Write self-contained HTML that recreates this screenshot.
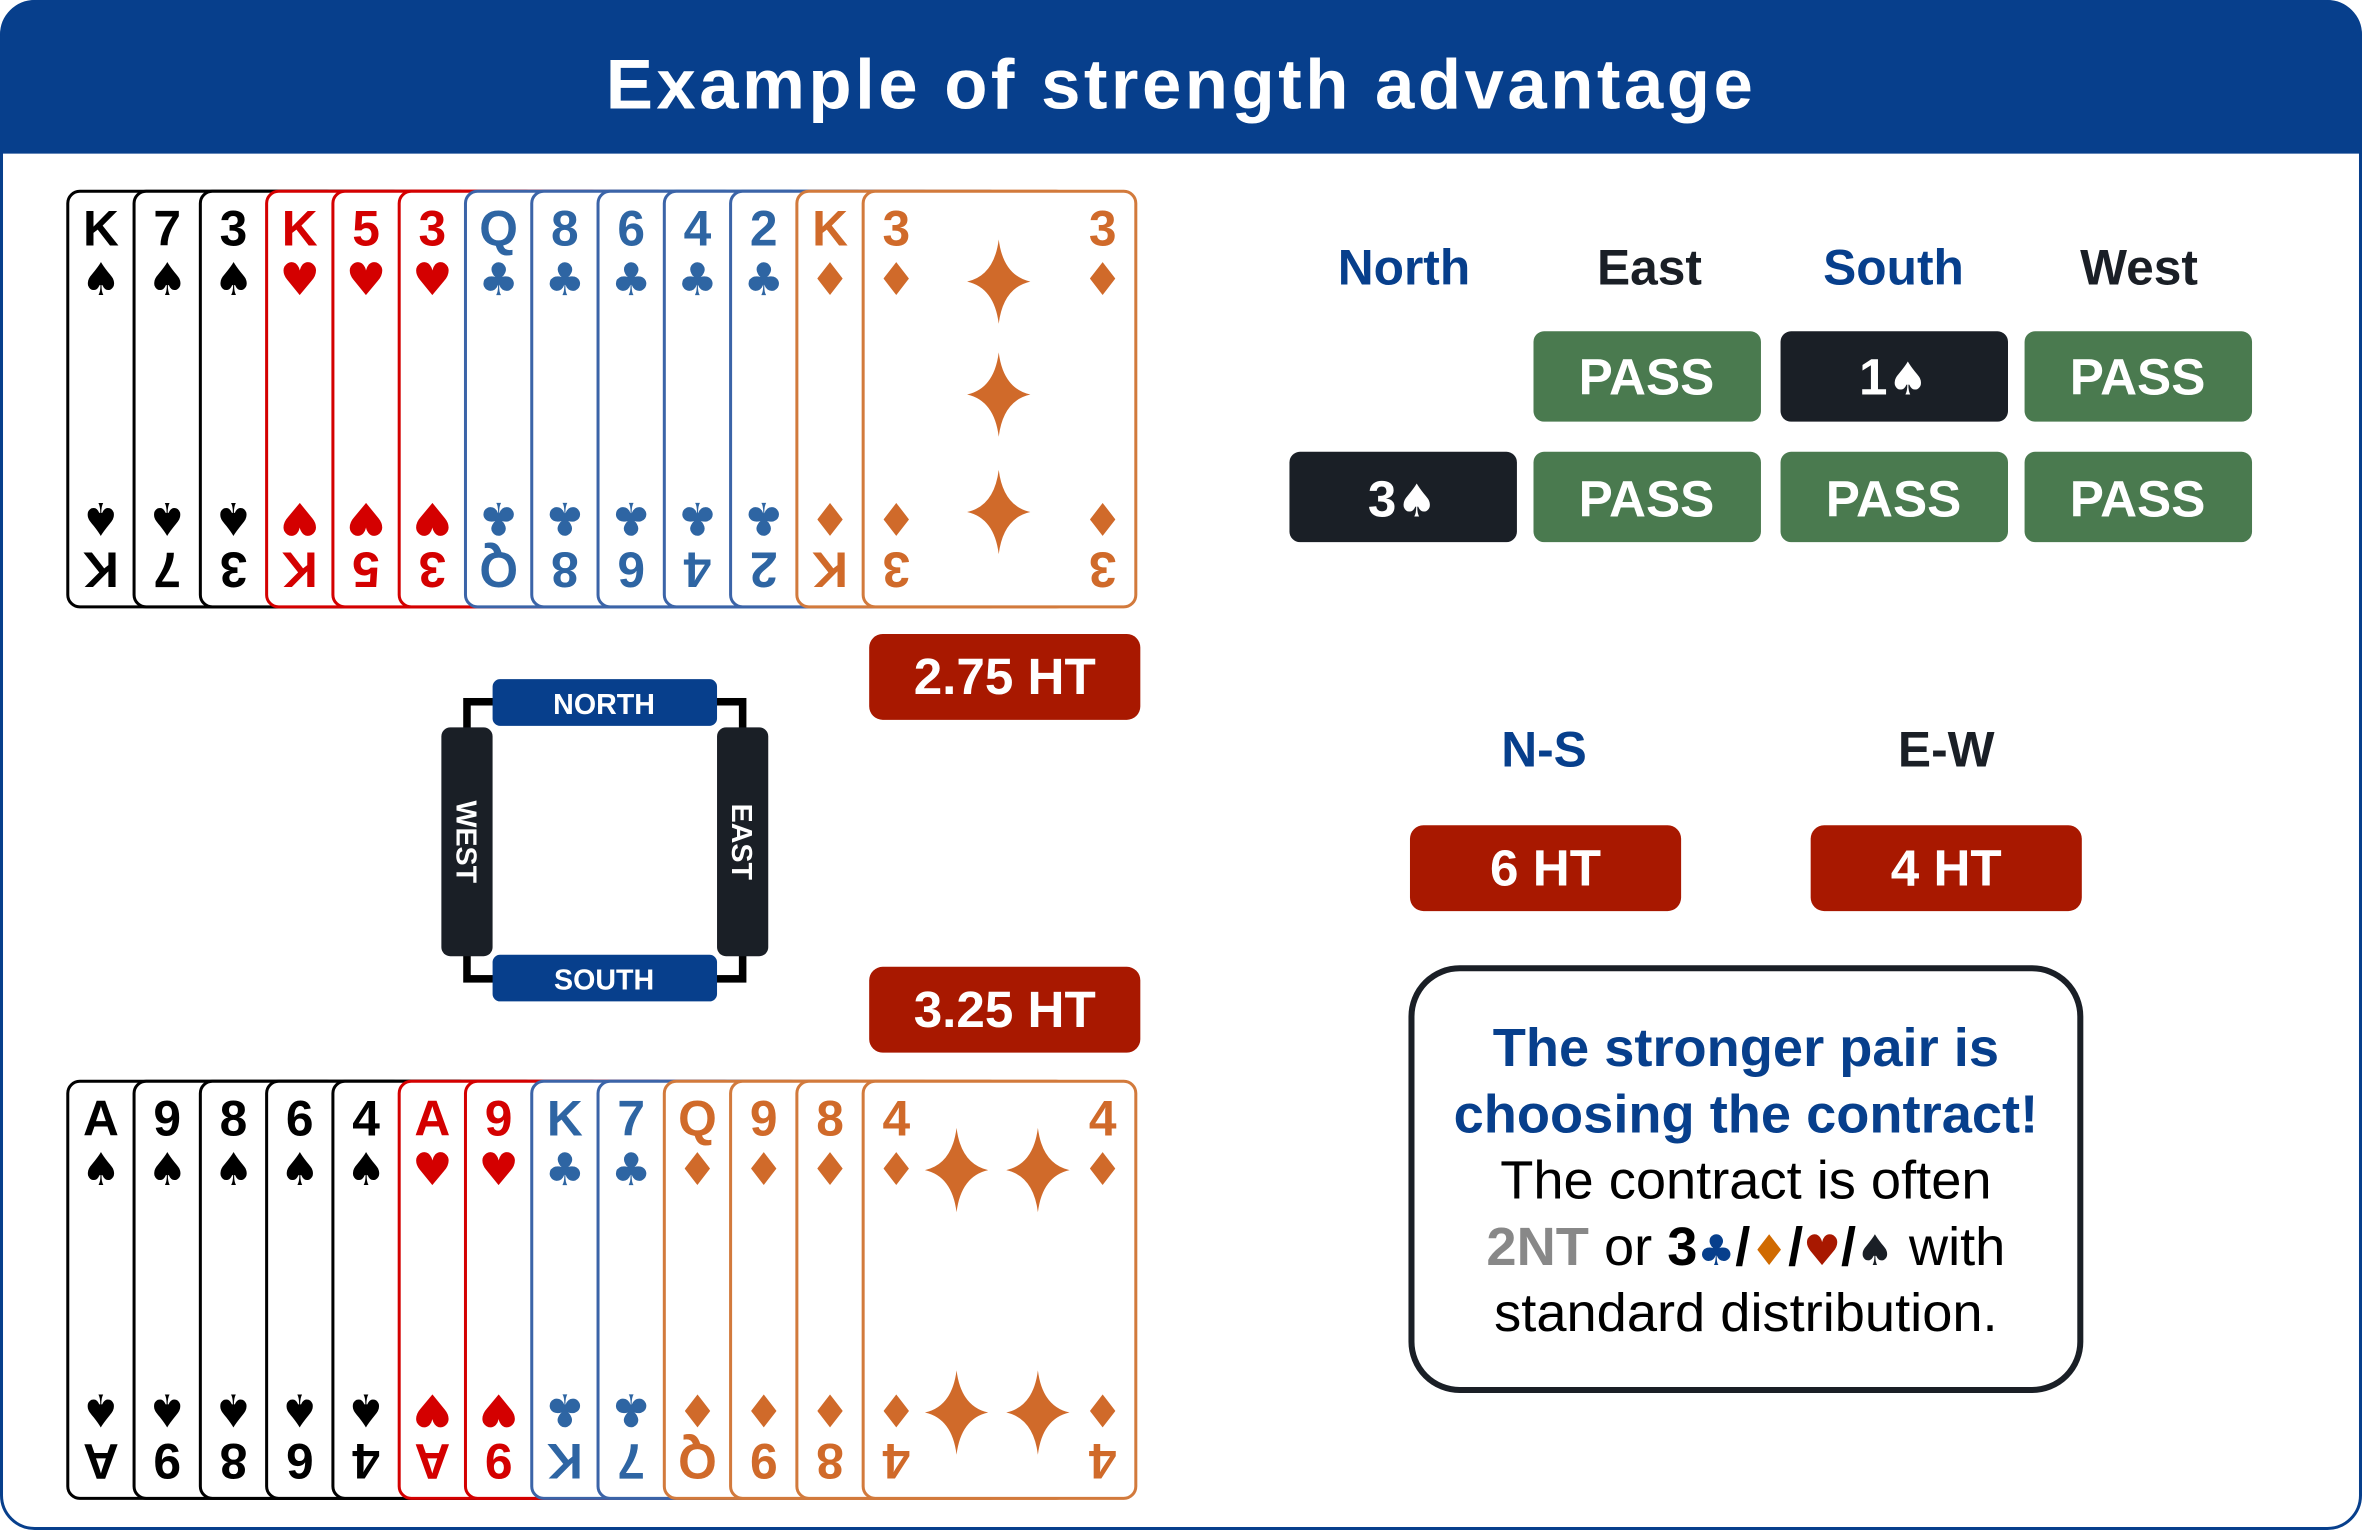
<!DOCTYPE html>
<html><head><meta charset="utf-8"><style>
html,body{margin:0;padding:0;background:#fff}
svg{display:block}
text{font-family:"Liberation Sans","DejaVu Sans",sans-serif}
.r{font-weight:bold;font-size:33px;text-anchor:middle}
.p{font-family:"DejaVu Sans",sans-serif;font-size:30px;text-anchor:middle}
.s rect{stroke:#000}.s text{fill:#000}
.h rect{stroke:#d40000}.h text{fill:#d40000}
.c rect{stroke:#3b64a8}.c text{fill:#2e65a3}
.d rect{stroke:#d27a3c}.d text{fill:#d06a2a}
.d path{fill:#d06a2a}
rect.cd{fill:#fff;stroke-width:2}
.bt{font-weight:bold;font-size:34px;fill:#fff;text-anchor:middle}
.hd{font-weight:bold;font-size:33px;text-anchor:middle}
.tx{font-size:36px;text-anchor:middle}
</style></head><body>
<svg width="2362" height="1530" viewBox="0 0 1568 1016" preserveAspectRatio="none" xmlns="http://www.w3.org/2000/svg">
<defs></defs>
<rect x="1" y="1" width="1566" height="1014" rx="22" fill="#fff" stroke="#073f8c" stroke-width="2"/>
<path d="M0 24 A24 24 0 0 1 24 0 H1544 A24 24 0 0 1 1568 24 V102 H0 Z" fill="#073f8c"/>
<text x="784" y="72" text-anchor="middle" font-size="47" font-weight="bold" fill="#fff" style="letter-spacing:2.3px">Example of strength advantage</text>

<!-- top hand -->
<g class="s"><rect class="cd" x="45" y="127" width="180" height="276" rx="8"/><text class="r" x="67" y="163">K</text><text class="p" x="67" y="196">♠</text><g transform="rotate(180 67 265)"><text class="r" x="67" y="163">K</text><text class="p" x="67" y="196">♠</text></g></g>
<g class="s"><rect class="cd" x="89" y="127" width="180" height="276" rx="8"/><text class="r" x="111" y="163">7</text><text class="p" x="111" y="196">♠</text><g transform="rotate(180 111 265)"><text class="r" x="111" y="163">7</text><text class="p" x="111" y="196">♠</text></g></g>
<g class="s"><rect class="cd" x="133" y="127" width="180" height="276" rx="8"/><text class="r" x="155" y="163">3</text><text class="p" x="155" y="196">♠</text><g transform="rotate(180 155 265)"><text class="r" x="155" y="163">3</text><text class="p" x="155" y="196">♠</text></g></g>
<g class="h"><rect class="cd" x="177" y="127" width="180" height="276" rx="8"/><text class="r" x="199" y="163">K</text><text class="p" x="199" y="196">♥</text><g transform="rotate(180 199 265)"><text class="r" x="199" y="163">K</text><text class="p" x="199" y="196">♥</text></g></g>
<g class="h"><rect class="cd" x="221" y="127" width="180" height="276" rx="8"/><text class="r" x="243" y="163">5</text><text class="p" x="243" y="196">♥</text><g transform="rotate(180 243 265)"><text class="r" x="243" y="163">5</text><text class="p" x="243" y="196">♥</text></g></g>
<g class="h"><rect class="cd" x="265" y="127" width="180" height="276" rx="8"/><text class="r" x="287" y="163">3</text><text class="p" x="287" y="196">♥</text><g transform="rotate(180 287 265)"><text class="r" x="287" y="163">3</text><text class="p" x="287" y="196">♥</text></g></g>
<g class="c"><rect class="cd" x="309" y="127" width="180" height="276" rx="8"/><text class="r" x="331" y="163">Q</text><text class="p" x="331" y="196">♣</text><g transform="rotate(180 331 265)"><text class="r" x="331" y="163">Q</text><text class="p" x="331" y="196">♣</text></g></g>
<g class="c"><rect class="cd" x="353" y="127" width="180" height="276" rx="8"/><text class="r" x="375" y="163">8</text><text class="p" x="375" y="196">♣</text><g transform="rotate(180 375 265)"><text class="r" x="375" y="163">8</text><text class="p" x="375" y="196">♣</text></g></g>
<g class="c"><rect class="cd" x="397" y="127" width="180" height="276" rx="8"/><text class="r" x="419" y="163">6</text><text class="p" x="419" y="196">♣</text><g transform="rotate(180 419 265)"><text class="r" x="419" y="163">6</text><text class="p" x="419" y="196">♣</text></g></g>
<g class="c"><rect class="cd" x="441" y="127" width="180" height="276" rx="8"/><text class="r" x="463" y="163">4</text><text class="p" x="463" y="196">♣</text><g transform="rotate(180 463 265)"><text class="r" x="463" y="163">4</text><text class="p" x="463" y="196">♣</text></g></g>
<g class="c"><rect class="cd" x="485" y="127" width="180" height="276" rx="8"/><text class="r" x="507" y="163">2</text><text class="p" x="507" y="196">♣</text><g transform="rotate(180 507 265)"><text class="r" x="507" y="163">2</text><text class="p" x="507" y="196">♣</text></g></g>
<g class="d"><rect class="cd" x="529" y="127" width="180" height="276" rx="8"/><text class="r" x="551" y="163">K</text><text class="p" x="551" y="196">♦</text><g transform="rotate(180 551 265)"><text class="r" x="551" y="163">K</text><text class="p" x="551" y="196">♦</text></g></g>
<g class="d"><rect class="cd" x="573" y="127" width="181" height="276" rx="8"/>
<text class="r" x="595" y="163">3</text><text class="p" x="595" y="196">♦</text><g transform="rotate(180 595 265)"><text class="r" x="595" y="163">3</text><text class="p" x="595" y="196">♦</text></g>
<text class="r" x="732" y="163">3</text><text class="p" x="732" y="196">♦</text><g transform="rotate(180 732 265)"><text class="r" x="732" y="163">3</text><text class="p" x="732" y="196">♦</text></g>
<path transform="translate(663 187)" d="M0,-28 Q3,-4 21,0 Q3,4 0,28 Q-3,4 -21,0 Q-3,-4 0,-28Z"/>
<path transform="translate(663 262)" d="M0,-28 Q3,-4 21,0 Q3,4 0,28 Q-3,4 -21,0 Q-3,-4 0,-28Z"/>
<path transform="translate(663 340)" d="M0,-28 Q3,-4 21,0 Q3,4 0,28 Q-3,4 -21,0 Q-3,-4 0,-28Z"/></g>

<!-- bottom hand -->
<g class="s"><rect class="cd" x="45" y="718" width="180" height="277" rx="8"/><text class="r" x="67" y="754">A</text><text class="p" x="67" y="787">♠</text><g transform="rotate(180 67 856.5)"><text class="r" x="67" y="754">A</text><text class="p" x="67" y="787">♠</text></g></g>
<g class="s"><rect class="cd" x="89" y="718" width="180" height="277" rx="8"/><text class="r" x="111" y="754">9</text><text class="p" x="111" y="787">♠</text><g transform="rotate(180 111 856.5)"><text class="r" x="111" y="754">9</text><text class="p" x="111" y="787">♠</text></g></g>
<g class="s"><rect class="cd" x="133" y="718" width="180" height="277" rx="8"/><text class="r" x="155" y="754">8</text><text class="p" x="155" y="787">♠</text><g transform="rotate(180 155 856.5)"><text class="r" x="155" y="754">8</text><text class="p" x="155" y="787">♠</text></g></g>
<g class="s"><rect class="cd" x="177" y="718" width="180" height="277" rx="8"/><text class="r" x="199" y="754">6</text><text class="p" x="199" y="787">♠</text><g transform="rotate(180 199 856.5)"><text class="r" x="199" y="754">6</text><text class="p" x="199" y="787">♠</text></g></g>
<g class="s"><rect class="cd" x="221" y="718" width="180" height="277" rx="8"/><text class="r" x="243" y="754">4</text><text class="p" x="243" y="787">♠</text><g transform="rotate(180 243 856.5)"><text class="r" x="243" y="754">4</text><text class="p" x="243" y="787">♠</text></g></g>
<g class="h"><rect class="cd" x="265" y="718" width="180" height="277" rx="8"/><text class="r" x="287" y="754">A</text><text class="p" x="287" y="787">♥</text><g transform="rotate(180 287 856.5)"><text class="r" x="287" y="754">A</text><text class="p" x="287" y="787">♥</text></g></g>
<g class="h"><rect class="cd" x="309" y="718" width="180" height="277" rx="8"/><text class="r" x="331" y="754">9</text><text class="p" x="331" y="787">♥</text><g transform="rotate(180 331 856.5)"><text class="r" x="331" y="754">9</text><text class="p" x="331" y="787">♥</text></g></g>
<g class="c"><rect class="cd" x="353" y="718" width="180" height="277" rx="8"/><text class="r" x="375" y="754">K</text><text class="p" x="375" y="787">♣</text><g transform="rotate(180 375 856.5)"><text class="r" x="375" y="754">K</text><text class="p" x="375" y="787">♣</text></g></g>
<g class="c"><rect class="cd" x="397" y="718" width="180" height="277" rx="8"/><text class="r" x="419" y="754">7</text><text class="p" x="419" y="787">♣</text><g transform="rotate(180 419 856.5)"><text class="r" x="419" y="754">7</text><text class="p" x="419" y="787">♣</text></g></g>
<g class="d"><rect class="cd" x="441" y="718" width="180" height="277" rx="8"/><text class="r" x="463" y="754">Q</text><text class="p" x="463" y="787">♦</text><g transform="rotate(180 463 856.5)"><text class="r" x="463" y="754">Q</text><text class="p" x="463" y="787">♦</text></g></g>
<g class="d"><rect class="cd" x="485" y="718" width="180" height="277" rx="8"/><text class="r" x="507" y="754">9</text><text class="p" x="507" y="787">♦</text><g transform="rotate(180 507 856.5)"><text class="r" x="507" y="754">9</text><text class="p" x="507" y="787">♦</text></g></g>
<g class="d"><rect class="cd" x="529" y="718" width="180" height="277" rx="8"/><text class="r" x="551" y="754">8</text><text class="p" x="551" y="787">♦</text><g transform="rotate(180 551 856.5)"><text class="r" x="551" y="754">8</text><text class="p" x="551" y="787">♦</text></g></g>
<g class="d"><rect class="cd" x="573" y="718" width="181" height="277" rx="8"/>
<text class="r" x="595" y="754">4</text><text class="p" x="595" y="787">♦</text><g transform="rotate(180 595 856.5)"><text class="r" x="595" y="754">4</text><text class="p" x="595" y="787">♦</text></g>
<text class="r" x="732" y="754">4</text><text class="p" x="732" y="787">♦</text><g transform="rotate(180 732 856.5)"><text class="r" x="732" y="754">4</text><text class="p" x="732" y="787">♦</text></g>
<path transform="translate(635 777)" d="M0,-28 Q3,-4 21,0 Q3,4 0,28 Q-3,4 -21,0 Q-3,-4 0,-28Z"/>
<path transform="translate(689 777)" d="M0,-28 Q3,-4 21,0 Q3,4 0,28 Q-3,4 -21,0 Q-3,-4 0,-28Z"/>
<path transform="translate(635 938)" d="M0,-28 Q3,-4 21,0 Q3,4 0,28 Q-3,4 -21,0 Q-3,-4 0,-28Z"/>
<path transform="translate(689 938)" d="M0,-28 Q3,-4 21,0 Q3,4 0,28 Q-3,4 -21,0 Q-3,-4 0,-28Z"/></g>

<!-- compass -->
<rect x="310" y="466" width="183" height="184" fill="none" stroke="#000" stroke-width="5"/>
<rect x="327" y="451" width="149" height="31" rx="5" fill="#073f8c"/>
<text x="401" y="474" text-anchor="middle" font-size="19" font-weight="bold" fill="#fff">NORTH</text>
<rect x="327" y="634" width="149" height="31" rx="5" fill="#073f8c"/>
<text x="401" y="657" text-anchor="middle" font-size="19" font-weight="bold" fill="#fff">SOUTH</text>
<rect x="293" y="483" width="34" height="152" rx="6" fill="#1a1f26"/>
<text transform="translate(303 559) rotate(90)" text-anchor="middle" font-size="19" font-weight="bold" fill="#fff">WEST</text>
<rect x="476" y="483" width="34" height="152" rx="6" fill="#1a1f26"/>
<text transform="translate(486 559) rotate(90)" text-anchor="middle" font-size="19" font-weight="bold" fill="#fff">EAST</text>

<!-- HT boxes -->
<rect x="577" y="421" width="180" height="57" rx="9" fill="#a81800"/><text class="bt" x="667" y="461">2.75 HT</text>
<rect x="577" y="642" width="180" height="57" rx="9" fill="#a81800"/><text class="bt" x="667" y="682">3.25 HT</text>

<!-- bidding -->
<text class="hd" x="932" y="189" fill="#073f8c">North</text>
<text class="hd" x="1095" y="189" fill="#1a1f26">East</text>
<text class="hd" x="1257" y="189" fill="#073f8c">South</text>
<text class="hd" x="1420" y="189" fill="#1a1f26">West</text>
<rect x="1018" y="220" width="151" height="60" rx="7" fill="#4a7a4f"/><text class="bt" x="1093" y="262">PASS</text>
<rect x="1182" y="220" width="151" height="60" rx="7" fill="#1a1f26"/><text class="bt" x="1257" y="262">1<tspan font-family="DejaVu Sans" font-size="30">♠</tspan></text>
<rect x="1344" y="220" width="151" height="60" rx="7" fill="#4a7a4f"/><text class="bt" x="1419" y="262">PASS</text>
<rect x="856" y="300" width="151" height="60" rx="7" fill="#1a1f26"/><text class="bt" x="931" y="343">3<tspan font-family="DejaVu Sans" font-size="30">♠</tspan></text>
<rect x="1018" y="300" width="151" height="60" rx="7" fill="#4a7a4f"/><text class="bt" x="1093" y="343">PASS</text>
<rect x="1182" y="300" width="151" height="60" rx="7" fill="#4a7a4f"/><text class="bt" x="1257" y="343">PASS</text>
<rect x="1344" y="300" width="151" height="60" rx="7" fill="#4a7a4f"/><text class="bt" x="1419" y="343">PASS</text>

<text class="hd" x="1025" y="509" fill="#073f8c" font-size="36">N-S</text>
<text class="hd" x="1292" y="509" fill="#1a1f26" font-size="36">E-W</text>
<rect x="936" y="548" width="180" height="57" rx="9" fill="#a81800"/><text class="bt" x="1026" y="588">6 HT</text>
<rect x="1202" y="548" width="180" height="57" rx="9" fill="#a81800"/><text class="bt" x="1292" y="588">4 HT</text>

<!-- note box -->
<rect x="937" y="643" width="444" height="280" rx="32" fill="#fff" stroke="#1a1f26" stroke-width="4"/>
<text class="tx" x="1159" y="708" fill="#073f8c" font-weight="bold" font-size="34">The stronger pair is</text>
<text class="tx" x="1159" y="752" fill="#073f8c" font-weight="bold" font-size="34">choosing the contract!</text>
<text class="tx" x="1159" y="796" fill="#000">The contract is often</text>
<text class="tx" x="1159" y="840" fill="#000"><tspan fill="#888" font-weight="bold">2NT</tspan> or <tspan font-weight="bold">3</tspan><tspan fill="#073f8c" font-family="DejaVu Sans" font-size="28">♣</tspan><tspan font-weight="bold">/</tspan><tspan fill="#d06a00" font-family="DejaVu Sans" font-size="28">♦</tspan><tspan font-weight="bold">/</tspan><tspan fill="#a81800" font-family="DejaVu Sans" font-size="28">♥</tspan><tspan font-weight="bold">/</tspan><tspan fill="#1a1f26" font-family="DejaVu Sans" font-size="28">♠</tspan> with</text>
<text class="tx" x="1159" y="884" fill="#000">standard distribution.</text>
</svg>
</body></html>
